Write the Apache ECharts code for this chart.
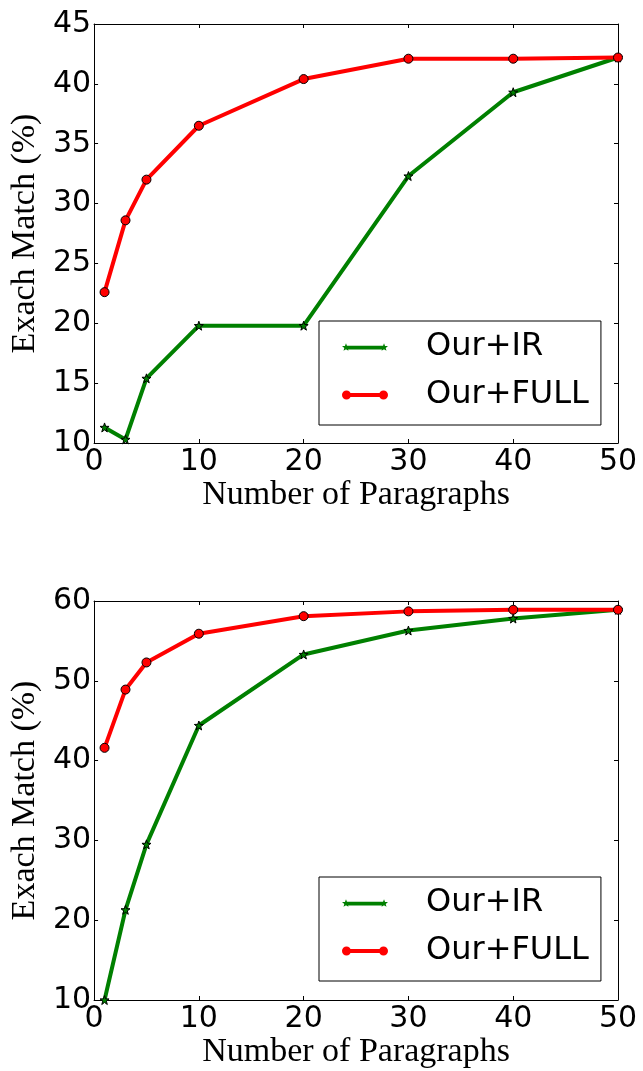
<!DOCTYPE html>
<html><head><meta charset="utf-8">
<script src="https://cdn.jsdelivr.net/npm/echarts@6/dist/echarts.min.js"></script>
<style>html,body{margin:0;padding:0;background:#fff}#c{width:643px;height:1071px}</style>
</head><body><div id="c"></div>
<script>
// ---- data ----
const paragraphs = [1, 3, 5, 10, 20, 30, 40, 50];
const topIR   = [11.3, 10.3, 15.4, 19.8, 19.8, 32.3, 39.3, 42.2];
const topFULL = [22.6, 28.6, 32.0, 36.5, 40.4, 42.1, 42.1, 42.2];
const botIR   = [10.0, 21.3, 29.5, 44.4, 53.3, 56.3, 57.8, 58.9];
const botFULL = [41.6, 48.9, 52.3, 55.9, 58.1, 58.7, 58.9, 58.9];
const seriesNames = ['Our+IR', 'Our+FULL'];
const xTitle = 'Number of Paragraphs';
const yTitle = 'Exach Match (%)';

// ---- styling helpers ----
function starPts(cx, cy, R, r) {
  let s = '';
  for (let i = 0; i < 10; i++) {
    const a = -Math.PI / 2 + i * Math.PI / 5;
    const rad = i % 2 === 0 ? R : r;
    s += (i === 0 ? 'M' : 'L') + (cx + rad * Math.cos(a)).toFixed(2) + ',' + (cy + rad * Math.sin(a)).toFixed(2) + ' ';
  }
  return s + 'Z ';
}
const starPath = 'path://' + starPts(10, 10, 10, 4);
const legendStar = 'path://' + starPts(4, 4.2, 4.2, 1.8) + starPts(42, 4.2, 4.2, 1.8) + 'M4,2.6 L42,2.6 L42,6.2 L4,6.2 Z';
const legendCircle = 'path://M0,4.5 a4.5,4.5 0 1,1 9,0 a4.5,4.5 0 1,1 -9,0 Z M37,4.5 a4.5,4.5 0 1,1 9,0 a4.5,4.5 0 1,1 -9,0 Z M4.5,2.5 L41.5,2.5 L41.5,6.5 L4.5,6.5 Z';

const GREEN = '#008000', RED = '#ff0000';
const tickFont = { fontFamily: 'DejaVu Sans', fontSize: 30, color: '#000' };
const titleFont = { fontFamily: 'Liberation Serif', fontSize: 34, color: '#000' };

const grids = [
  { left: 91, top: 24, width: 527, height: 419 },
  { left: 91, top: 601, width: 527, height: 399 }
];
const yRanges = [{ min: 10, max: 45, interval: 5 }, { min: 10, max: 60, interval: 10 }];

const xAxes = [], yAxes = [];
grids.forEach((g, i) => {
  xAxes.push({
    type: 'value', gridIndex: i, min: 0, max: 50, interval: 10, position: 'bottom',
    name: xTitle, nameLocation: 'middle', nameGap: 33, nameTextStyle: titleFont,
    axisLine: { show: true, onZero: false, lineStyle: { color: '#000', width: 1 } },
    axisTick: { show: true, inside: true, length: 4, lineStyle: { color: '#000' } },
    axisLabel: Object.assign({ margin: 4 }, tickFont),
    splitLine: { show: false }
  });
  xAxes.push({
    type: 'value', gridIndex: i, min: 0, max: 50, interval: 10, position: 'top',
    axisLine: { show: true, onZero: false, lineStyle: { color: '#000', width: 1 } },
    axisTick: { show: true, inside: true, length: 4, lineStyle: { color: '#000' } },
    axisLabel: { show: false }, splitLine: { show: false }
  });
  yAxes.push(Object.assign({
    type: 'value', gridIndex: i, position: 'left',
    name: yTitle, nameLocation: 'middle', nameGap: 46, nameTextStyle: titleFont,
    axisLine: { show: true, onZero: false, lineStyle: { color: '#000', width: 1 } },
    axisTick: { show: true, inside: true, length: 4, lineStyle: { color: '#000' } },
    axisLabel: Object.assign({ margin: 3 }, tickFont),
    splitLine: { show: false }
  }, yRanges[i]));
  yAxes.push(Object.assign({
    type: 'value', gridIndex: i, position: 'right',
    axisLine: { show: true, onZero: false, lineStyle: { color: '#000', width: 1 } },
    axisTick: { show: true, inside: true, length: 4, lineStyle: { color: '#000' } },
    axisLabel: { show: false }, splitLine: { show: false }
  }, yRanges[i]));
});

function pairs(ys) { return paragraphs.map((x, k) => [x, ys[k]]); }
function irSeries(ys, gi) {
  return {
    name: seriesNames[0], type: 'line', xAxisIndex: gi * 2, yAxisIndex: gi * 2, data: pairs(ys),
    symbol: starPath, symbolSize: 9, showAllSymbol: true, clip: false,
    lineStyle: { color: GREEN, width: 4 },
    itemStyle: { color: GREEN, borderColor: '#000', borderWidth: 1 }, z: 3
  };
}
function fullSeries(ys, gi) {
  return {
    name: seriesNames[1], type: 'line', xAxisIndex: gi * 2, yAxisIndex: gi * 2, data: pairs(ys),
    symbol: 'circle', symbolSize: 9, showAllSymbol: true, clip: false,
    lineStyle: { color: RED, width: 4 },
    itemStyle: { color: RED, borderColor: '#000', borderWidth: 1 }, z: 4
  };
}

const legendBase = (top) => ({
  left: 319, top: top, orient: 'vertical',
  padding: [6, 12, 10, 23], itemGap: 8,
  itemWidth: 46, itemHeight: 9,
  borderColor: '#000', borderWidth: 1, backgroundColor: '#fff',
  textStyle: { fontFamily: 'DejaVu Sans', fontSize: 32, color: '#000', lineHeight: 40, padding: [0, 0, 0, 33] },
  data: [
    { name: seriesNames[0], icon: legendStar, itemStyle: { color: GREEN, borderWidth: 0 } },
    { name: seriesNames[1], icon: legendCircle, itemStyle: { color: RED, borderWidth: 0 } }
  ],
  selectedMode: false
});

const chart = echarts.init(document.getElementById('c'), null, { renderer: 'canvas' });
chart.setOption({
  backgroundColor: '#fff',
  animation: false,
  grid: grids,
  xAxis: xAxes,
  yAxis: yAxes,
  legend: [legendBase(321), legendBase(877)],
  series: [irSeries(topIR, 0), fullSeries(topFULL, 0), irSeries(botIR, 1), fullSeries(botFULL, 1)]
});
</script></body></html>
